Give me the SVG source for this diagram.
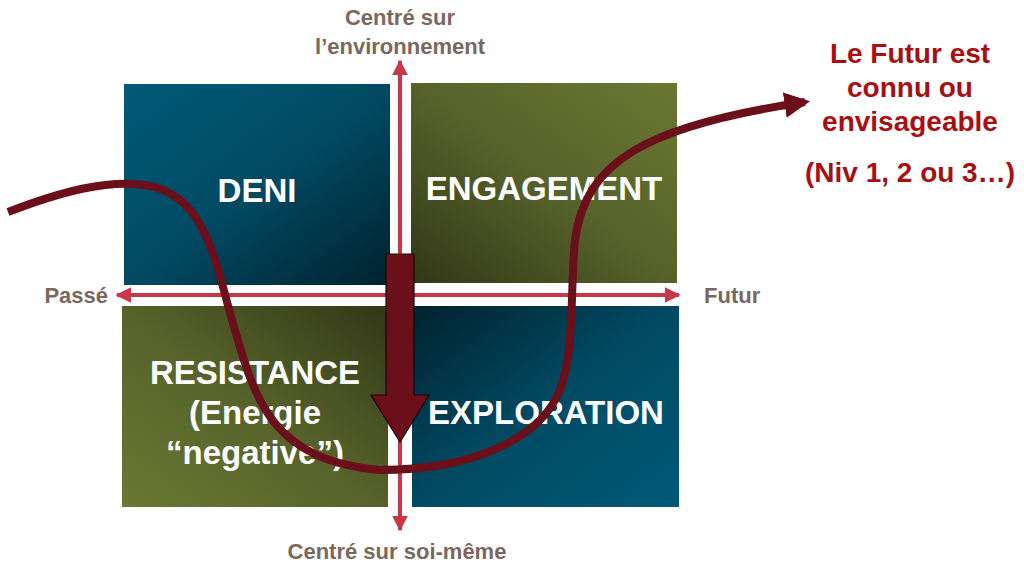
<svg xmlns="http://www.w3.org/2000/svg" width="1024" height="568" viewBox="0 0 1024 568">
<defs>
<linearGradient id="gDeni" x1="0" y1="0" x2="1" y2="1"><stop offset="0" stop-color="#005a78"/><stop offset="0.5" stop-color="#014a63"/><stop offset="1" stop-color="#00222e"/></linearGradient>
<linearGradient id="gEng" x1="1" y1="0" x2="0" y2="1"><stop offset="0" stop-color="#6a7832"/><stop offset="0.5" stop-color="#56622a"/><stop offset="1" stop-color="#323717"/></linearGradient>
<linearGradient id="gRes" x1="0" y1="1" x2="1" y2="0"><stop offset="0" stop-color="#6a7832"/><stop offset="0.5" stop-color="#56622a"/><stop offset="1" stop-color="#323717"/></linearGradient>
<linearGradient id="gExp" x1="1" y1="1" x2="0" y2="0"><stop offset="0" stop-color="#005a78"/><stop offset="0.5" stop-color="#014a63"/><stop offset="1" stop-color="#00222e"/></linearGradient>
<marker id="ax" viewBox="0 0 10 10" refX="9" refY="5" markerWidth="4" markerHeight="4" orient="auto-start-reverse" markerUnits="strokeWidth"><path d="M0,0 L10,5 L0,10 Z" fill="#c8374a"/></marker>
<marker id="cv" viewBox="0 0 10 10" refX="8" refY="5" markerWidth="3.2" markerHeight="3.2" orient="auto" markerUnits="strokeWidth"><path d="M0,0 L10,5 L0,10 Z" fill="#6b0f1a"/></marker>
</defs>
<style>
.box{font-family:"Liberation Sans",Arial,sans-serif;font-weight:bold;font-size:33px;fill:#ffffff;text-anchor:middle}
.ax{font-family:"Liberation Sans",Arial,sans-serif;font-weight:bold;font-size:22px;fill:#7a675e}
.red{font-family:"Liberation Sans",Arial,sans-serif;font-weight:bold;font-size:28px;fill:#a80f12;text-anchor:middle}
</style>
<rect width="1024" height="568" fill="#ffffff"/>
<g id="deni"><rect x="124" y="84" width="266" height="201" fill="url(#gDeni)"/><text class="box" x="257" y="202">DENI</text></g>
<g id="engagement"><rect x="411" y="83" width="266" height="200" fill="url(#gEng)"/><text class="box" x="544" y="200">ENGAGEMENT</text></g>
<g id="resistance"><rect x="122" y="306" width="266" height="201" fill="url(#gRes)"/><text class="box" x="255" y="384">RESISTANCE</text><text class="box" x="255" y="424">(Energie</text><text class="box" x="255" y="464">“negative”)</text></g>
<g id="exploration"><rect x="412" y="306" width="267" height="201" fill="url(#gExp)"/><text class="box" x="546" y="424">EXPLORATION</text></g>
<g id="connectors">
<line x1="117" y1="295" x2="679" y2="295" stroke="#c8374a" stroke-width="4" marker-start="url(#ax)" marker-end="url(#ax)"/>
<line x1="400" y1="61" x2="400" y2="530" stroke="#c8374a" stroke-width="4" marker-start="url(#ax)" marker-end="url(#ax)"/>
<path d="M386,254 H414 V395 H429 L400,442 L371,395 H386 Z" fill="#6b0f1a" stroke="#1a0506" stroke-width="1.2"/>
<path d="M8,212 C60,192 110,178 150,186 C205,197 215,260 232,320 C255,400 270,460 380,470 C470,470 540,440 560,390 C575,350 570,290 575,240 C585,160 650,125 805,102" fill="none" stroke="#6b0f1a" stroke-width="8" marker-end="url(#cv)"/>
</g>
<g id="labels">
<text class="ax" x="400" y="25" text-anchor="middle">Centré sur</text>
<text class="ax" x="400" y="54" text-anchor="middle">l’environnement</text>
<text class="ax" x="108" y="303" text-anchor="end">Passé</text>
<text class="ax" x="704" y="303">Futur</text>
<text class="ax" x="397" y="559" text-anchor="middle">Centré sur soi-même</text>
<text class="red" x="910" y="63">Le Futur est</text>
<text class="red" x="910" y="97">connu ou</text>
<text class="red" x="910" y="131">envisageable</text>
<text class="red" x="910" y="182">(Niv 1, 2 ou 3…)</text>
</g>
</svg>
